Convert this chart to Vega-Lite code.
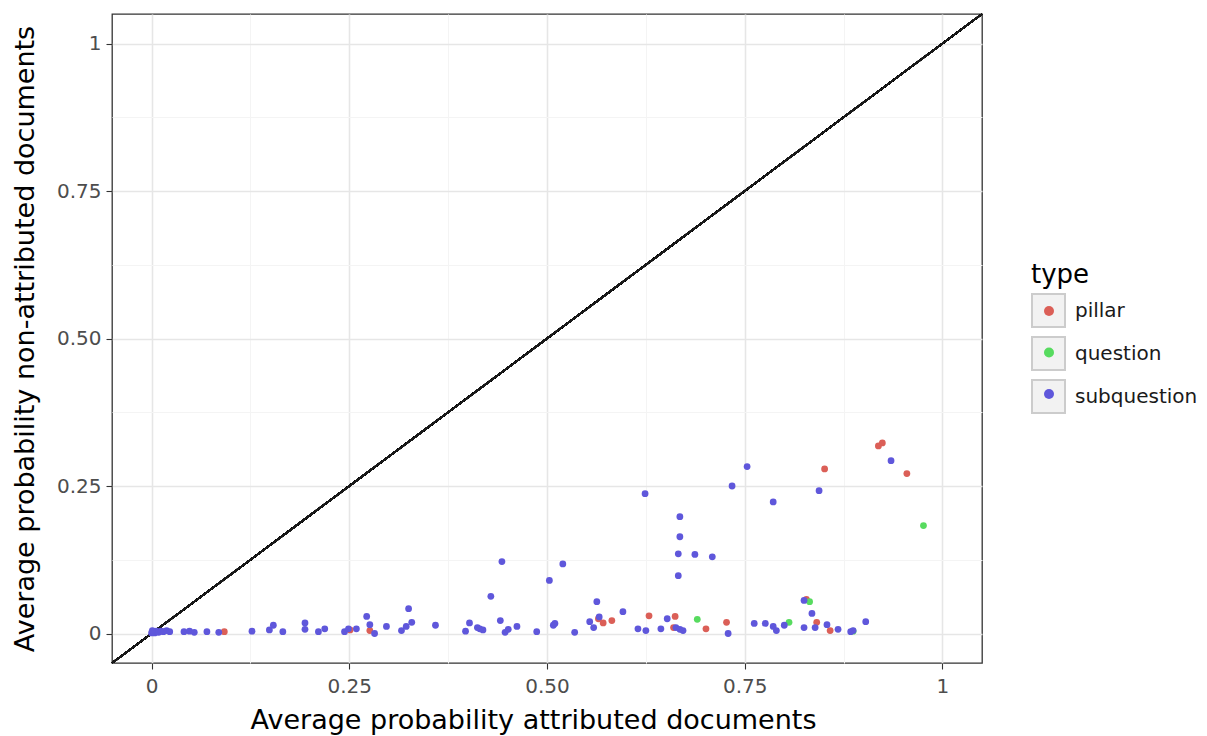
{
  "$schema": "https://vega.github.io/schema/vega-lite/v6.json",
  "width": 870,
  "height": 649,
  "autosize": "none",
  "padding": {"left": 112, "top": 14, "right": 225, "bottom": 73},
  "config": {
    "font": "DejaVu Sans",
    "view": {"stroke": "#333333", "strokeWidth": 1.3},
    "axis": {
      "domain": false,
      "labelFont": "DejaVu Sans",
      "labelFontSize": 20,
      "labelColor": "#4d4d4d",
      "tickColor": "#333333",
      "tickWidth": 1.1,
      "titleFont": "DejaVu Sans",
      "titleFontSize": 27,
      "titleFontWeight": "normal",
      "titleColor": "#000000"
    }
  },
  "data": {
    "values": [
      {"x": 0.092, "y": 0.003, "type": "pillar"},
      {"x": 0.251, "y": 0.006, "type": "pillar"},
      {"x": 0.276, "y": 0.005, "type": "pillar"},
      {"x": 0.565, "y": 0.025, "type": "pillar"},
      {"x": 0.571, "y": 0.018, "type": "pillar"},
      {"x": 0.582, "y": 0.022, "type": "pillar"},
      {"x": 0.629, "y": 0.030, "type": "pillar"},
      {"x": 0.662, "y": 0.029, "type": "pillar"},
      {"x": 0.660, "y": 0.010, "type": "pillar"},
      {"x": 0.701, "y": 0.008, "type": "pillar"},
      {"x": 0.727, "y": 0.019, "type": "pillar"},
      {"x": 0.828, "y": 0.058, "type": "pillar"},
      {"x": 0.841, "y": 0.019, "type": "pillar"},
      {"x": 0.851, "y": 0.279, "type": "pillar"},
      {"x": 0.858, "y": 0.005, "type": "pillar"},
      {"x": 0.919, "y": 0.318, "type": "pillar"},
      {"x": 0.924, "y": 0.323, "type": "pillar"},
      {"x": 0.955, "y": 0.271, "type": "pillar"},
      {"x": 0.690, "y": 0.024, "type": "question"},
      {"x": 0.806, "y": 0.019, "type": "question"},
      {"x": 0.832, "y": 0.054, "type": "question"},
      {"x": 0.887, "y": 0.004, "type": "question"},
      {"x": 0.976, "y": 0.183, "type": "question"},
      {"x": 0.000, "y": 0.001, "type": "subquestion"},
      {"x": 0.002, "y": 0.003, "type": "subquestion"},
      {"x": 0.004, "y": 0.001, "type": "subquestion"},
      {"x": 0.006, "y": 0.004, "type": "subquestion"},
      {"x": 0.009, "y": 0.002, "type": "subquestion"},
      {"x": 0.012, "y": 0.004, "type": "subquestion"},
      {"x": 0.015, "y": 0.003, "type": "subquestion"},
      {"x": 0.019, "y": 0.005, "type": "subquestion"},
      {"x": 0.023, "y": 0.003, "type": "subquestion"},
      {"x": 0.001, "y": 0.005, "type": "subquestion"},
      {"x": 0.041, "y": 0.003, "type": "subquestion"},
      {"x": 0.048, "y": 0.004, "type": "subquestion"},
      {"x": 0.054, "y": 0.002, "type": "subquestion"},
      {"x": 0.070, "y": 0.003, "type": "subquestion"},
      {"x": 0.085, "y": 0.002, "type": "subquestion"},
      {"x": 0.127, "y": 0.004, "type": "subquestion"},
      {"x": 0.149, "y": 0.006, "type": "subquestion"},
      {"x": 0.154, "y": 0.014, "type": "subquestion"},
      {"x": 0.166, "y": 0.003, "type": "subquestion"},
      {"x": 0.194, "y": 0.018, "type": "subquestion"},
      {"x": 0.194, "y": 0.007, "type": "subquestion"},
      {"x": 0.211, "y": 0.003, "type": "subquestion"},
      {"x": 0.219, "y": 0.008, "type": "subquestion"},
      {"x": 0.244, "y": 0.003, "type": "subquestion"},
      {"x": 0.249, "y": 0.008, "type": "subquestion"},
      {"x": 0.259, "y": 0.008, "type": "subquestion"},
      {"x": 0.272, "y": 0.029, "type": "subquestion"},
      {"x": 0.276, "y": 0.015, "type": "subquestion"},
      {"x": 0.282, "y": 0.000, "type": "subquestion"},
      {"x": 0.297, "y": 0.012, "type": "subquestion"},
      {"x": 0.316, "y": 0.005, "type": "subquestion"},
      {"x": 0.322, "y": 0.012, "type": "subquestion"},
      {"x": 0.325, "y": 0.042, "type": "subquestion"},
      {"x": 0.329, "y": 0.019, "type": "subquestion"},
      {"x": 0.359, "y": 0.014, "type": "subquestion"},
      {"x": 0.397, "y": 0.004, "type": "subquestion"},
      {"x": 0.402, "y": 0.018, "type": "subquestion"},
      {"x": 0.412, "y": 0.010, "type": "subquestion"},
      {"x": 0.415, "y": 0.008, "type": "subquestion"},
      {"x": 0.419, "y": 0.006, "type": "subquestion"},
      {"x": 0.429, "y": 0.063, "type": "subquestion"},
      {"x": 0.441, "y": 0.022, "type": "subquestion"},
      {"x": 0.443, "y": 0.122, "type": "subquestion"},
      {"x": 0.447, "y": 0.002, "type": "subquestion"},
      {"x": 0.451, "y": 0.007, "type": "subquestion"},
      {"x": 0.462, "y": 0.012, "type": "subquestion"},
      {"x": 0.487, "y": 0.003, "type": "subquestion"},
      {"x": 0.503, "y": 0.090, "type": "subquestion"},
      {"x": 0.508, "y": 0.014, "type": "subquestion"},
      {"x": 0.510, "y": 0.017, "type": "subquestion"},
      {"x": 0.520, "y": 0.118, "type": "subquestion"},
      {"x": 0.535, "y": 0.002, "type": "subquestion"},
      {"x": 0.554, "y": 0.020, "type": "subquestion"},
      {"x": 0.559, "y": 0.010, "type": "subquestion"},
      {"x": 0.563, "y": 0.054, "type": "subquestion"},
      {"x": 0.566, "y": 0.028, "type": "subquestion"},
      {"x": 0.596, "y": 0.037, "type": "subquestion"},
      {"x": 0.615, "y": 0.008, "type": "subquestion"},
      {"x": 0.625, "y": 0.005, "type": "subquestion"},
      {"x": 0.624, "y": 0.237, "type": "subquestion"},
      {"x": 0.644, "y": 0.008, "type": "subquestion"},
      {"x": 0.652, "y": 0.025, "type": "subquestion"},
      {"x": 0.663, "y": 0.010, "type": "subquestion"},
      {"x": 0.666, "y": 0.098, "type": "subquestion"},
      {"x": 0.666, "y": 0.135, "type": "subquestion"},
      {"x": 0.668, "y": 0.164, "type": "subquestion"},
      {"x": 0.668, "y": 0.198, "type": "subquestion"},
      {"x": 0.668, "y": 0.007, "type": "subquestion"},
      {"x": 0.672, "y": 0.005, "type": "subquestion"},
      {"x": 0.687, "y": 0.134, "type": "subquestion"},
      {"x": 0.709, "y": 0.130, "type": "subquestion"},
      {"x": 0.729, "y": 0.000, "type": "subquestion"},
      {"x": 0.734, "y": 0.250, "type": "subquestion"},
      {"x": 0.753, "y": 0.283, "type": "subquestion"},
      {"x": 0.762, "y": 0.017, "type": "subquestion"},
      {"x": 0.776, "y": 0.017, "type": "subquestion"},
      {"x": 0.786, "y": 0.012, "type": "subquestion"},
      {"x": 0.786, "y": 0.223, "type": "subquestion"},
      {"x": 0.790, "y": 0.005, "type": "subquestion"},
      {"x": 0.800, "y": 0.014, "type": "subquestion"},
      {"x": 0.825, "y": 0.056, "type": "subquestion"},
      {"x": 0.835, "y": 0.034, "type": "subquestion"},
      {"x": 0.825, "y": 0.010, "type": "subquestion"},
      {"x": 0.839, "y": 0.010, "type": "subquestion"},
      {"x": 0.844, "y": 0.242, "type": "subquestion"},
      {"x": 0.854, "y": 0.015, "type": "subquestion"},
      {"x": 0.868, "y": 0.007, "type": "subquestion"},
      {"x": 0.884, "y": 0.003, "type": "subquestion"},
      {"x": 0.887, "y": 0.005, "type": "subquestion"},
      {"x": 0.903, "y": 0.020, "type": "subquestion"},
      {"x": 0.935, "y": 0.293, "type": "subquestion"}
    ]
  },
  "encoding": {
    "x": {
      "field": "x",
      "type": "quantitative",
      "scale": {"domain": [-0.05, 1.05], "nice": false, "zero": false},
      "axis": {
        "title": "Average probability attributed documents",
        "values": [0, 0.125, 0.25, 0.375, 0.5, 0.625, 0.75, 0.875, 1],
        "labelExpr": "datum.value * 4 % 1 != 0 ? '' : (datum.value == 0 ? '0' : datum.value == 1 ? '1' : format(datum.value, '.2f'))",
        "gridColor": {"condition": {"test": "datum.value * 4 % 1 != 0", "value": "#f4f4f4"}, "value": "#e6e6e6"},
        "gridWidth": {"condition": {"test": "datum.value * 4 % 1 != 0", "value": 1}, "value": 1.6},
        "tickSize": {"condition": {"test": "datum.value * 4 % 1 != 0", "value": 0}, "value": 6},
        "labelPadding": 7,
        "titlePadding": 11,
        "titleX": 421
      }
    },
    "y": {
      "field": "y",
      "type": "quantitative",
      "scale": {"domain": [-0.05, 1.05], "nice": false, "zero": false},
      "axis": {
        "title": "Average probability non-attributed documents",
        "values": [0, 0.125, 0.25, 0.375, 0.5, 0.625, 0.75, 0.875, 1],
        "labelExpr": "datum.value * 4 % 1 != 0 ? '' : (datum.value == 0 ? '0' : datum.value == 1 ? '1' : format(datum.value, '.2f'))",
        "gridColor": {"condition": {"test": "datum.value * 4 % 1 != 0", "value": "#f4f4f4"}, "value": "#e6e6e6"},
        "gridWidth": {"condition": {"test": "datum.value * 4 % 1 != 0", "value": 1}, "value": 1.6},
        "tickSize": {"condition": {"test": "datum.value * 4 % 1 != 0", "value": 0}, "value": 6},
        "labelPadding": 5,
        "titlePadding": 17
      }
    }
  },
  "layer": [
    {
      "mark": {"type": "point", "shape": "square", "filled": true, "opacity": 0},
      "encoding": {
        "fill": {
          "field": "type",
          "type": "nominal",
          "scale": {"domain": ["pillar", "question", "subquestion"], "range": ["#f2f2f2", "#f2f2f2", "#f2f2f2"]},
          "legend": {
            "orient": "none",
            "legendX": 919,
            "legendY": 248,
            "title": "type",
            "titleFontSize": 26,
            "titleFontWeight": "normal",
            "titleColor": "#000000",
            "titlePadding": 5,
            "symbolType": "square",
            "symbolSize": 1089,
            "symbolOpacity": 1,
            "symbolStrokeColor": "#cccccc",
            "symbolStrokeWidth": 2,
            "labelFontSize": 20,
            "labelColor": "#1a1a1a",
            "labelOffset": 9,
            "rowPadding": 2
          }
        }
      }
    },
    {
      "mark": {"type": "rule", "color": "#1a1a1a", "strokeWidth": 1.5},
      "encoding": {
        "x": {"datum": -0.05, "type": "quantitative"},
        "y": {"datum": -0.05, "type": "quantitative"},
        "x2": {"datum": 1.05},
        "y2": {"datum": 1.05}
      }
    },
    {
      "mark": {"type": "circle", "size": 46, "opacity": 1},
      "encoding": {
        "color": {
          "field": "type",
          "type": "nominal",
          "scale": {"range": ["#db5f57", "#57db5f", "#5f57db"]},
          "legend": {
            "orient": "none",
            "legendX": 919,
            "legendY": 287,
            "title": null,
            "labelExpr": "''",
            "labelFontSize": 20,
            "symbolStrokeWidth": 0,
            "symbolOffset": 8,
            "symbolOpacity": 1,
            "rowPadding": 21.5
          }
        }
      }
    }
  ]
}
